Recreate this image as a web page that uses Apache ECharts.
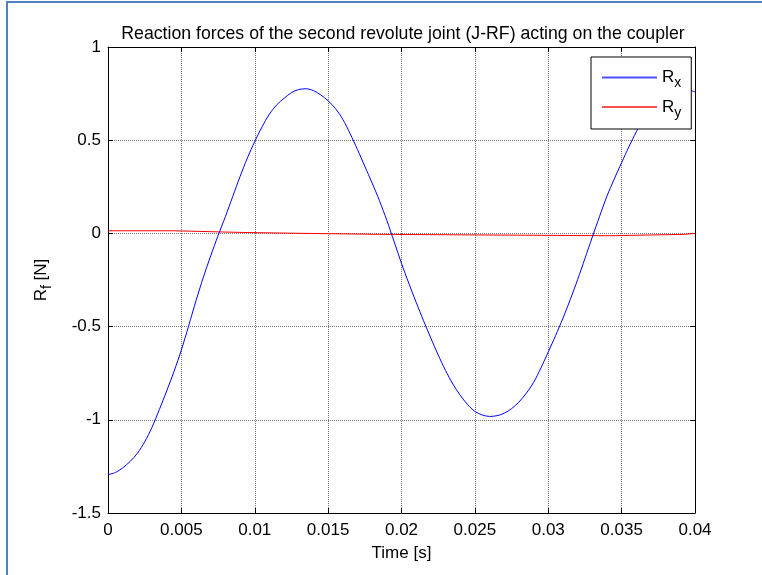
<!DOCTYPE html>
<html>
<head>
<meta charset="utf-8">
<script src="https://cdn.jsdelivr.net/npm/echarts@6/dist/echarts.min.js"></script>
<style>
html,body{margin:0;padding:0;background:#fff;}
#chart{width:762px;height:575px;}
</style>
</head>
<body>
<div id="chart"></div>
<script>
// Time in ms for R_x samples
var rxTime = [0, 0.5, 1, 1.5, 2, 2.5, 3, 3.5, 4, 4.5, 5, 5.5, 6, 6.5, 7, 7.5, 8, 8.5, 9, 9.5,
  10, 10.5, 11, 11.5, 12, 12.5, 13, 13.5, 14, 14.5, 15, 15.5, 16, 16.5, 17, 17.5, 18, 18.5, 19, 19.5,
  20, 20.5, 21, 21.5, 22, 22.5, 23, 23.5, 24, 24.5, 25, 25.5, 26, 26.5, 27, 27.5, 28, 28.5, 29, 29.5,
  30, 30.5, 31, 31.5, 32, 32.5, 33, 33.5, 34, 34.5, 35, 35.5, 36, 36.5, 37, 37.5, 38, 38.5, 39, 39.5, 40];
var rxValues = [-1.294, -1.283, -1.258, -1.224, -1.18, -1.118, -1.04, -0.945, -0.845, -0.74,
  -0.625, -0.495, -0.36, -0.235, -0.12, -0.012, 0.09, 0.198, 0.305, 0.405,
  0.493, 0.572, 0.64, 0.69, 0.725, 0.755, 0.772, 0.776, 0.766, 0.743,
  0.711, 0.67, 0.612, 0.535, 0.45, 0.36, 0.27, 0.175, 0.07, -0.045,
  -0.161, -0.268, -0.37, -0.468, -0.562, -0.652, -0.735, -0.808, -0.868, -0.918,
  -0.955, -0.974, -0.982, -0.978, -0.965, -0.94, -0.905, -0.858, -0.8, -0.722,
  -0.636, -0.548, -0.455, -0.355, -0.248, -0.135, -0.02, 0.092, 0.2, 0.292,
  0.38, 0.465, 0.545, 0.618, 0.68, 0.722, 0.752, 0.768, 0.775, 0.772, 0.759];
// R_y is piecewise constant (step changes at these times, ms)
var ryTime = [0, 4.55, 9.16, 13.5, 18.5, 34.25, 39.3, 40.0];
var ryValues = [0.014, 0.005, 0, -0.005, -0.0125, -0.005, 0, 0];
var seriesNames = ['R_x', 'R_y'];
var xTickInterval = 0.005;
var yTickInterval = 0.5;

function pairs(ts, vs) {
  return ts.map(function (t, i) { return [t / 1000, vs[i]]; });
}

var FONT = 'Liberation Sans, Arial, sans-serif';
var chart = echarts.init(document.getElementById('chart'), null, {renderer: 'canvas'});

var gridLine = {show: true, lineStyle: {color: '#777', type: 'dotted', width: 1}};
var axisLineStyle = {show: true, onZero: false, lineStyle: {color: '#000', width: 1}};

chart.setOption({
  backgroundColor: '#fff',
  animation: false,
  title: {
    text: 'Reaction forces of the second revolute joint (J-RF) acting on the coupler',
    left: 398, top: 20, textAlign: 'center',
    textStyle: {fontFamily: FONT, fontSize: 17.7, fontWeight: 'normal', color: '#000'}
  },
  grid: {left: 108, top: 47, right: 67, bottom: 62, containLabel: false},
  legend: {
    data: [
      {name: seriesNames[0], icon: 'rect', itemStyle: {color: '#5050ff'}},
      {name: seriesNames[1], icon: 'rect', itemStyle: {color: '#ff5050'}}
    ],
    orient: 'vertical',
    left: 591, top: 57,
    padding: [12, 10, 9, 11],
    itemWidth: 55, itemHeight: 2, itemGap: 8, itemTextGap: 6,
    backgroundColor: '#fff', borderColor: '#000', borderWidth: 1, borderRadius: 0,
    formatter: function (n) { var p = n.split('_'); return '{r|' + p[0] + '}{s|' + p[1] + '}'; },
    textStyle: {
      fontFamily: FONT, color: '#000',
      rich: {
        r: {fontFamily: FONT, fontSize: 17, color: '#000'},
        s: {fontFamily: FONT, fontSize: 14, color: '#000', padding: [12, 0, 0, 0]}
      }
    }
  },
  xAxis: [{
    type: 'value', min: 0, max: 0.04, interval: xTickInterval, position: 'bottom',
    name: 'Time [s]', nameLocation: 'middle', nameGap: 32,
    nameTextStyle: {fontFamily: FONT, fontSize: 17, color: '#000'},
    axisLine: axisLineStyle,
    axisTick: {show: true, inside: true, length: 5, lineStyle: {color: '#000'}},
    axisLabel: {fontFamily: FONT, fontSize: 17, color: '#000', margin: 9,
      formatter: function (v) { return String(+v.toFixed(3)); }},
    splitLine: gridLine
  }, {
    type: 'value', min: 0, max: 0.04, interval: xTickInterval, position: 'top',
    axisLine: axisLineStyle,
    axisTick: {show: true, inside: true, length: 5, lineStyle: {color: '#000'}},
    axisLabel: {show: false}, splitLine: {show: false}
  }],
  yAxis: [{
    type: 'value', min: -1.5, max: 1, interval: yTickInterval, position: 'left',
    name: '{r|R}{s|f} {r|[N]}', nameLocation: 'middle', nameGap: 54, nameRotate: 90,
    nameTextStyle: {fontFamily: FONT, fontSize: 17, color: '#000',
      rich: {
        r: {fontFamily: FONT, fontSize: 17, color: '#000'},
        s: {fontFamily: FONT, fontSize: 14, color: '#000', padding: [12, 0, 0, 0]}
      }},
    axisLine: axisLineStyle,
    axisTick: {show: true, inside: true, length: 5, lineStyle: {color: '#000'}},
    axisLabel: {fontFamily: FONT, fontSize: 17, color: '#000', margin: 7,
      formatter: function (v) { return String(+v.toFixed(2)); }},
    splitLine: gridLine
  }, {
    type: 'value', min: -1.5, max: 1, interval: yTickInterval, position: 'right',
    axisLine: axisLineStyle,
    axisTick: {show: true, inside: true, length: 5, lineStyle: {color: '#000'}},
    axisLabel: {show: false}, splitLine: {show: false}
  }],
  series: [{
    name: seriesNames[0], type: 'line', data: pairs(rxTime, rxValues),
    smooth: 0.3, symbol: 'none',
    lineStyle: {color: '#0000ff', width: 1}, itemStyle: {color: '#0000ff'},
    z: 3
  }, {
    name: seriesNames[1], type: 'line', data: pairs(ryTime, ryValues),
    step: 'end', symbol: 'none', lineStyle: {color: '#ff0000', width: 1}, itemStyle: {color: '#ff0000'},
    z: 2
  }],
  graphic: [{
    type: 'line', shape: {x1: 7, y1: 2, x2: 7, y2: 575}, style: {stroke: '#4f81bd', lineWidth: 2}, silent: true
  }, {
    type: 'line', shape: {x1: 6, y1: 2, x2: 762, y2: 2}, style: {stroke: '#4f81bd', lineWidth: 2}, silent: true
  }]
});
</script>
</body>
</html>
